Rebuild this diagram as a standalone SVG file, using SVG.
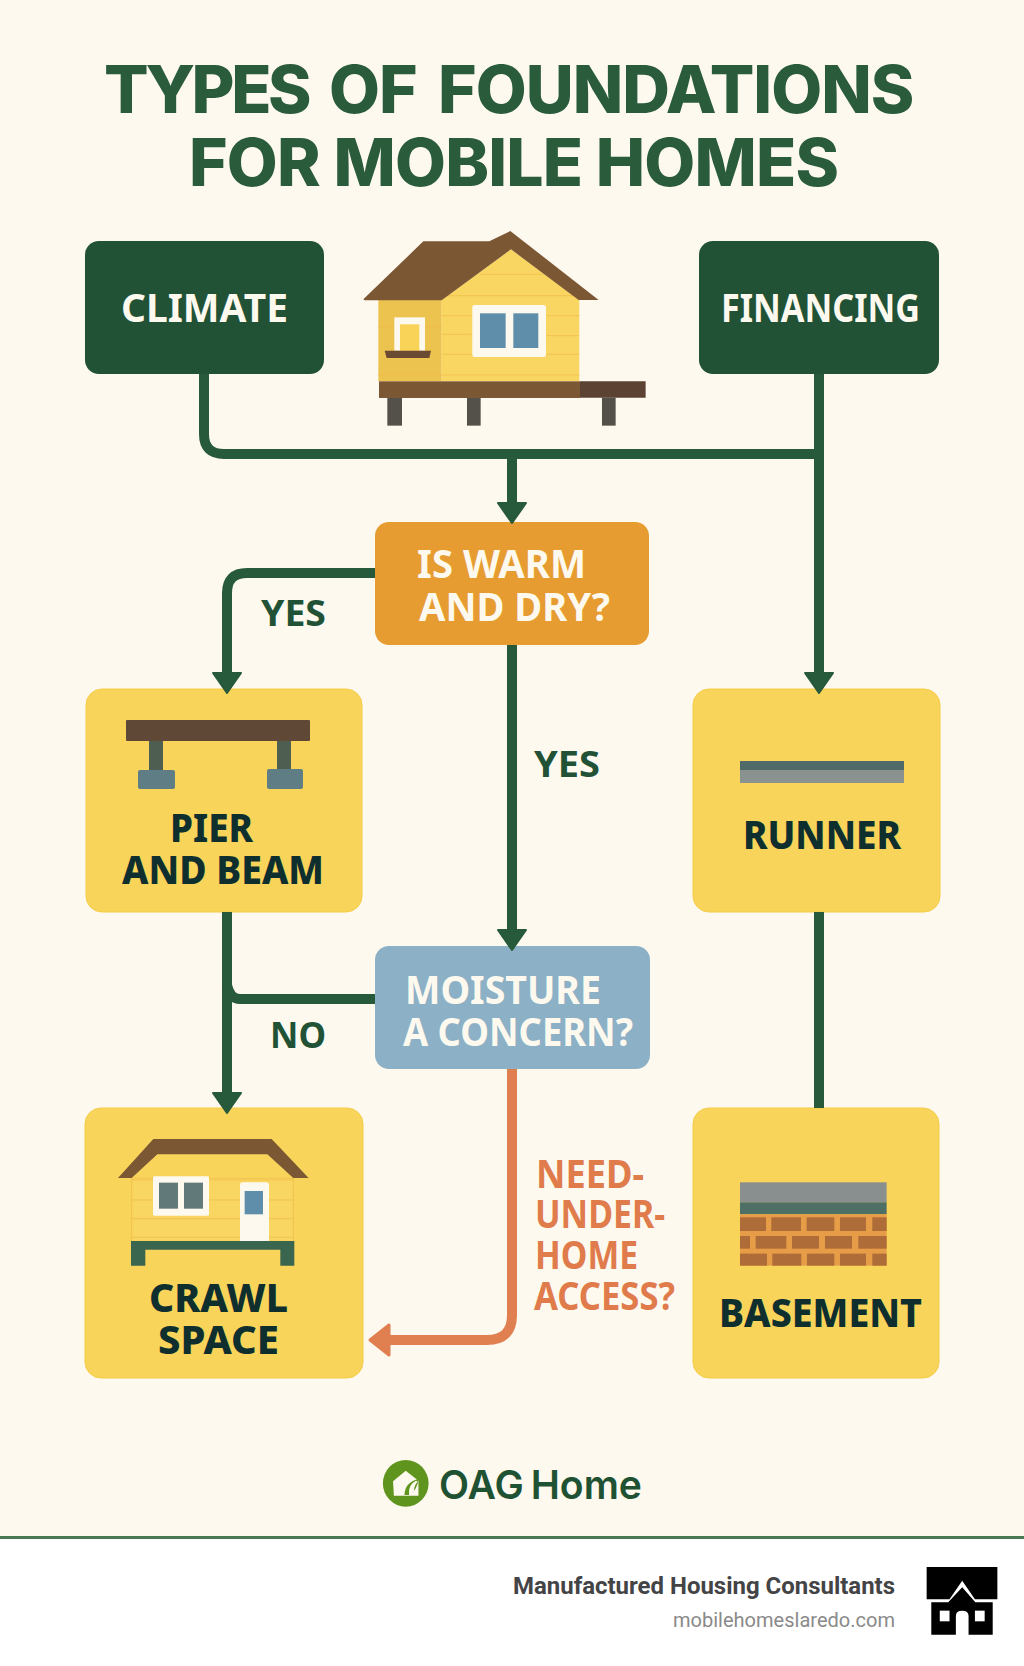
<svg xmlns="http://www.w3.org/2000/svg" width="1024" height="1666" viewBox="0 0 1024 1666">
<style>
text{font-family:"Noto Sans","Open Sans","Liberation Sans",sans-serif;font-weight:700}
.t{fill:#2a5c3c;font-size:66px;font-weight:800;font-family:Inter,"Noto Sans",sans-serif}
.w{fill:#fdf9ee;font-size:40px}
.d{fill:#0f2f2f;font-size:39px;font-weight:800}
.g{fill:#215236;font-size:36px}
.o{fill:#e07b4c;font-size:39px}
.box{fill:#f8d45a;stroke:#f6cc45;stroke-width:1}
.c{fill:none;stroke:#27593b;stroke-width:10}
.roof{fill:#7c5734}
.sid{stroke:#eeb948;stroke-width:2;fill:none}
</style>
<defs>
<marker id="ag" markerUnits="userSpaceOnUse" markerWidth="30" markerHeight="34" refX="3" refY="15" orient="auto" overflow="visible"><path d="M2 1L22 15L2 29Z" fill="#27593b" stroke="#27593b" stroke-linejoin="round" stroke-width="2"/></marker>
<marker id="ao" markerUnits="userSpaceOnUse" markerWidth="30" markerHeight="38" refX="3" refY="17" orient="auto" overflow="visible"><path d="M2 2L21 17L2 32Z" fill="#e07f50" stroke="#e07f50" stroke-linejoin="round" stroke-width="3"/></marker>
</defs>
<rect width="1024" height="1666" fill="#fdf9ef"/>
<rect y="1539" width="1024" height="127" fill="#fff"/>
<rect y="1536" width="1024" height="3" fill="#4a7a54"/>
<g id="title">
<text class="t" y="112.500"><tspan x="104" letter-spacing="-3.500">TYPES</tspan> <tspan x="329" letter-spacing="-1">OF</tspan> <tspan x="438" letter-spacing="-1">FOUNDATIONS</tspan></text>
<text class="t" x="189" y="186" textLength="650" lengthAdjust="spacing">FOR MOBILE HOMES</text>
</g>
<g id="climate"><rect x="85" y="241" width="239" height="133" rx="14" fill="#215236"/><text class="w" x="121" y="322" textLength="167" lengthAdjust="spacingAndGlyphs">CLIMATE</text></g>
<g id="financing"><rect x="699" y="241" width="240" height="133" rx="14" fill="#215236"/><text class="w" x="721" y="322" textLength="199" lengthAdjust="spacingAndGlyphs">FINANCING</text></g>
<g id="house" transform="translate(340 220) scale(.3333)">
<path d="M115 240H305V484H115Z" fill="#edc350"/>
<path d="M305 240L513 88L718 240V484H305Z" fill="#f9d661"/>
<path class="sid" d="M420 163H610M305 227H700M305 287H395M620 287H718M305 343H395M620 347H718M305 403H718M305 465H718M115 320H165M255 320H305M115 465H305"/>
<path class="roof" d="M70 238L250 64H448L511 33L776 240H716L513 88L305 241H74Z"/>
<rect x="163" y="292" width="92" height="100" fill="#fdf9ee"/>
<rect x="180" y="313" width="58" height="80" fill="#f8d357"/>
<path d="M134 392H273L268 414H140Z" fill="#6a4a32"/>
<rect x="397" y="255" width="221" height="156" rx="7" fill="#fdf9ee"/>
<rect x="420" y="280" width="77" height="104" fill="#5e8eaa"/>
<rect x="520" y="280" width="75" height="104" fill="#5e8eaa"/>
<rect x="117" y="484" width="603" height="50" fill="#7c5734"/>
<path d="M720 484H917V533H720Z" fill="#5b4232"/>
<rect x="142" y="534" width="44" height="83" fill="#54514a"/>
<rect x="381" y="534" width="41" height="83" fill="#54514a"/>
<rect x="786" y="533" width="41" height="84" fill="#54514a"/>
</g>
<g id="warm"><rect x="375" y="522" width="274" height="123" rx="14" fill="#e69c30"/><text class="w" x="417" y="578" textLength="169" lengthAdjust="spacingAndGlyphs">IS WARM</text><text class="w" x="419" y="621" textLength="191" lengthAdjust="spacingAndGlyphs">AND DRY?</text></g>
<g id="pier"><rect class="box" x="86" y="689" width="276" height="223" rx="16"/>
<rect x="126" y="720" width="184" height="21" rx="1" fill="#5f4936"/>
<rect x="149" y="741" width="14" height="30" fill="#4e5f52"/><rect x="277" y="741" width="14" height="30" fill="#4e5f52"/>
<rect x="138" y="770" width="37" height="19" rx="2" fill="#5f7d84"/><rect x="267" y="769" width="36" height="20" rx="2" fill="#5f7d84"/>
<text class="d" x="170" y="842" textLength="83" lengthAdjust="spacingAndGlyphs">PIER</text><text class="d" x="122" y="884" textLength="202" lengthAdjust="spacingAndGlyphs">AND BEAM</text></g>
<g id="runner"><rect class="box" x="693" y="689" width="247" height="223" rx="16"/>
<rect x="740" y="761" width="164" height="9" fill="#4f6a68"/><rect x="740" y="770" width="164" height="13" fill="#8a9290"/>
<text class="d" x="743" y="849" textLength="158" lengthAdjust="spacingAndGlyphs">RUNNER</text></g>
<g id="moisture"><rect x="375" y="946" width="275" height="123" rx="14" fill="#8cb0c5"/><text class="w" x="405" y="1004" textLength="196" lengthAdjust="spacingAndGlyphs">MOISTURE</text><text class="w" x="403" y="1046" textLength="230" lengthAdjust="spacingAndGlyphs">A CONCERN?</text></g>
<g id="crawl"><rect class="box" x="85" y="1108" width="278" height="270" rx="16"/>
<g transform="translate(80 1100) scale(.3333)">
<path d="M155 235H640V424H155Z" fill="#f9d661" stroke="#eeb948" stroke-width="2"/>
<path class="sid" d="M155 240H640M155 300H640M155 356H640M155 412H640"/>
<path class="roof" d="M114 234L220 117H575L686 234H640L562 163H232L155 234Z"/>
<rect x="219" y="229" width="168" height="118" rx="4" fill="#fdf9ee"/>
<rect x="237" y="248" width="57" height="78" fill="#62797a"/><rect x="312" y="248" width="57" height="78" fill="#62797a"/>
<path d="M480 424V255Q480 247 488 247H558Q567 247 567 255V424Z" fill="#fdf9ee"/>
<rect x="494" y="273" width="55" height="70" fill="#5e8eaa"/>
<path d="M153 423H643V497H601V449H196V497H153Z" fill="#3a6650"/>
</g>
<text class="d" x="149" y="1312" textLength="139" lengthAdjust="spacingAndGlyphs">CRAWL</text><text class="d" x="158" y="1354" textLength="121" lengthAdjust="spacingAndGlyphs">SPACE</text></g>
<g id="basement"><rect class="box" x="693" y="1108" width="246" height="270" rx="16"/>
<g transform="translate(680 1100) scale(.3333)">
<rect x="180" y="247" width="440" height="60" fill="#888f8e"/>
<rect x="180" y="307" width="440" height="36" fill="#4d6f66"/>
<rect x="180" y="343" width="440" height="154" fill="#e79c47"/>
<g fill="#ad6c38"><rect x="180" y="352" width="78" height="41"/><rect x="274" y="352" width="89" height="41"/><rect x="380" y="352" width="83" height="41"/><rect x="480" y="352" width="78" height="41"/><rect x="577" y="352" width="43" height="41"/>
<rect x="180" y="408" width="30" height="38"/><rect x="227" y="408" width="92" height="38"/><rect x="336" y="408" width="81" height="38"/><rect x="435" y="408" width="81" height="38"/><rect x="535" y="408" width="85" height="38"/>
<rect x="180" y="461" width="81" height="36"/><rect x="277" y="461" width="87" height="36"/><rect x="381" y="461" width="82" height="36"/><rect x="480" y="461" width="78" height="36"/><rect x="577" y="461" width="43" height="36"/></g>
</g>
<text class="d" x="719" y="1327" textLength="203" lengthAdjust="spacingAndGlyphs">BASEMENT</text></g>
<g id="connectors">
<path class="c" d="M204 374V434Q204 454 224 454H819"/>
<path class="c" d="M819 374V674" marker-end="url(#ag)"/>
<path class="c" d="M512 454V504" marker-end="url(#ag)"/>
<path class="c" d="M375 573H247Q227 573 227 593V674" marker-end="url(#ag)"/>
<path class="c" d="M512 645V931" marker-end="url(#ag)"/>
<path class="c" d="M227 912V1094" marker-end="url(#ag)"/>
<path class="c" d="M375 999H240Q230 999 227 985"/>
<path class="c" d="M819 912V1108"/>
<path d="M512 1069V1315Q512 1340 487 1340H388" fill="none" stroke="#e07f50" stroke-width="10" marker-end="url(#ao)"/>
</g>
<g id="labels">
<text class="g" x="261" y="626" textLength="65" lengthAdjust="spacingAndGlyphs">YES</text>
<text class="g" x="534" y="777" textLength="66" lengthAdjust="spacingAndGlyphs">YES</text>
<text class="g" x="270" y="1048" textLength="56" lengthAdjust="spacingAndGlyphs">NO</text>
<text class="o" x="536" y="1188" textLength="108" lengthAdjust="spacingAndGlyphs">NEED-</text>
<text class="o" x="535" y="1228" textLength="130" lengthAdjust="spacingAndGlyphs">UNDER-</text>
<text class="o" x="535" y="1269" textLength="103" lengthAdjust="spacingAndGlyphs">HOME</text>
<text class="o" x="534" y="1310" textLength="141" lengthAdjust="spacingAndGlyphs">ACCESS?</text>
</g>
<g id="logo">
<g transform="translate(360 1440) scale(.4235 .3333)">
<ellipse cx="108" cy="130" rx="54" ry="70" fill="#5f951f"/>
<path d="M78 124L108 92L138 122V167H80Z" fill="#fdf9ee"/>
<path d="M105 165Q105 128 138 116Q136 150 116 165Z" fill="#5f951f"/><path d="M116 165Q112 135 132 122L136 124Q124 145 128 165Z" fill="#fdf9ee"/>
</g>
<text x="439" y="1499" font-size="40" fill="#1f5233" textLength="203" lengthAdjust="spacingAndGlyphs" style="font-family:Inter,sans-serif;font-weight:600;word-spacing:-3px">OAG Home</text>
</g>
<g id="footer">
<text x="513" y="1594" font-size="23.5" fill="#444446" textLength="382" lengthAdjust="spacingAndGlyphs" style="font-family:Roboto,sans-serif;font-weight:700">Manufactured Housing Consultants</text>
<text x="673" y="1627" font-size="21" fill="#8a8a8a" textLength="222" lengthAdjust="spacingAndGlyphs" style="font-family:Roboto,sans-serif;font-weight:400">mobilehomeslaredo.com</text>
<g transform="translate(360 1440) scale(.4235 .3333)">
<path d="M1338 381H1505V478H1452L1422 422L1392 478H1338Z" fill="#000"/>
<path d="M1349 487H1389L1422 442L1453 487H1494V584H1437V528Q1437 512 1422 512Q1407 512 1407 528V584H1349Z" fill="#000"/>
<rect x="1369" y="512" width="23" height="32" fill="#fff"/><rect x="1452" y="512" width="23" height="32" fill="#fff"/>
</g>
</g>
</svg>
